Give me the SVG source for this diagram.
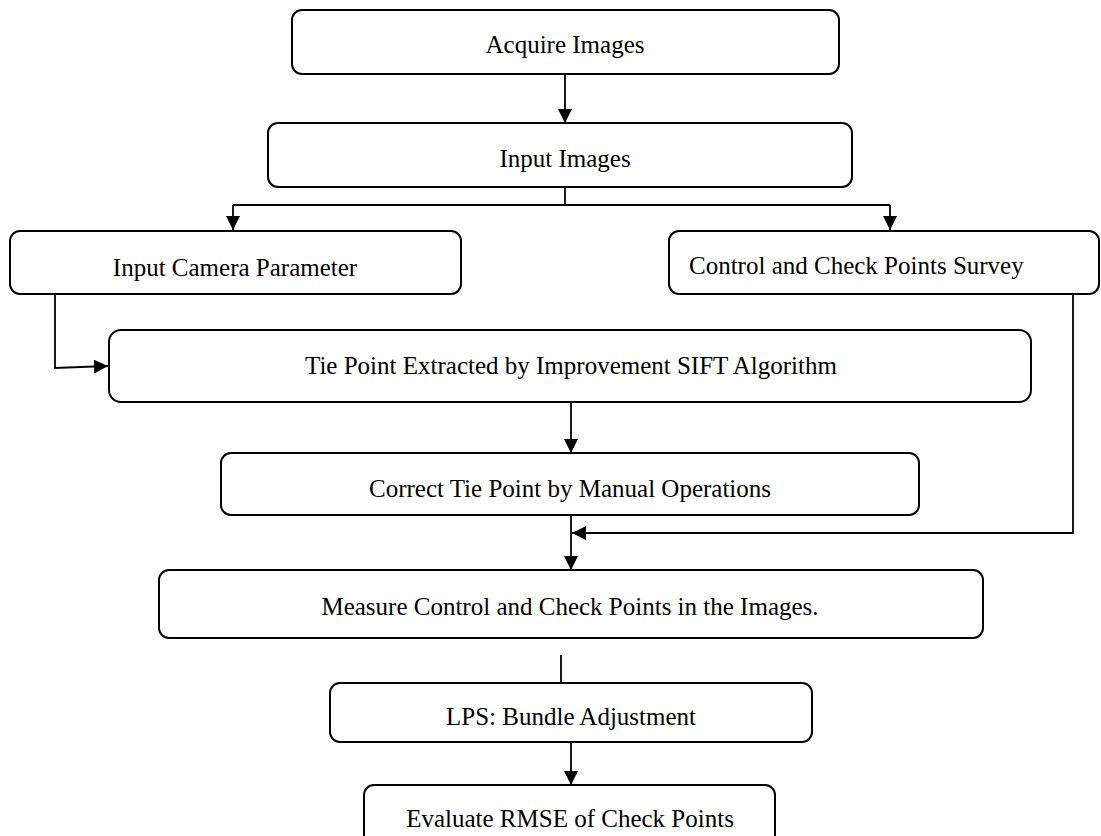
<svg xmlns="http://www.w3.org/2000/svg" width="1101" height="836" viewBox="0 0 1101 836">
<style>
.box{fill:#fff;stroke:#000;stroke-width:2}
.lbl{font-family:"Liberation Serif","Times New Roman",serif;font-size:25px;fill:#000;text-anchor:middle}
.con{fill:none;stroke:#000;stroke-width:1.8}
</style>
<defs>
<marker id="ah" viewBox="0 0 14 14" refX="14" refY="7" markerWidth="14" markerHeight="14" markerUnits="userSpaceOnUse" orient="auto">
<path d="M0,0 L14,7 L0,14 Z" fill="#000"/>
</marker>
</defs>
<rect width="1101" height="836" fill="#fff"/>
<g id="connectors">
<path class="con" d="M565,74 V123" marker-end="url(#ah)"/>
<path class="con" d="M565,187 V205"/>
<path class="con" d="M233,205 H890"/>
<path class="con" d="M233,205 V230" marker-end="url(#ah)"/>
<path class="con" d="M890,205 V230" marker-end="url(#ah)"/>
<path class="con" d="M55,294 V368 L108,366" marker-end="url(#ah)"/>
<path class="con" d="M571,402 V453" marker-end="url(#ah)"/>
<path class="con" d="M571,515 V570" marker-end="url(#ah)"/>
<path class="con" d="M1073,294 V533 H572" marker-end="url(#ah)"/>
<path class="con" d="M561,655 V683"/>
<path class="con" d="M571,742 V785" marker-end="url(#ah)"/>
</g>
<g id="acquire">
<rect class="box" x="292" y="10" width="547" height="64" rx="10"/>
<text class="lbl" x="565" y="53">Acquire Images</text>
</g>
<g id="input-images">
<rect class="box" x="268" y="123" width="584" height="64" rx="10"/>
<text class="lbl" x="565" y="167">Input Images</text>
</g>
<g id="camera">
<rect class="box" x="10" y="231" width="451" height="63" rx="10"/>
<text class="lbl" x="235" y="276">Input Camera Parameter</text>
</g>
<g id="survey">
<rect class="box" x="669" y="231" width="430" height="63" rx="10"/>
<text class="lbl" x="689" y="274" style="text-anchor:start">Control and Check Points Survey</text>
</g>
<g id="tiepoint">
<rect class="box" x="109" y="330" width="922" height="72" rx="12"/>
<text class="lbl" x="571" y="374">Tie Point Extracted by Improvement SIFT Algorithm</text>
</g>
<g id="correct">
<rect class="box" x="221" y="453" width="698" height="62" rx="10"/>
<text class="lbl" x="570" y="497">Correct Tie Point by Manual Operations</text>
</g>
<g id="measure">
<rect class="box" x="159" y="570" width="824" height="68" rx="10"/>
<text class="lbl" x="570" y="615">Measure Control and Check Points in the Images.</text>
</g>
<g id="lps">
<rect class="box" x="330" y="683" width="482" height="59" rx="10"/>
<text class="lbl" x="571" y="725">LPS: Bundle Adjustment</text>
</g>
<g id="evaluate">
<rect class="box" x="364" y="785" width="411" height="62" rx="10"/>
<text class="lbl" x="570" y="827">Evaluate RMSE of Check Points</text>
</g>
</svg>
